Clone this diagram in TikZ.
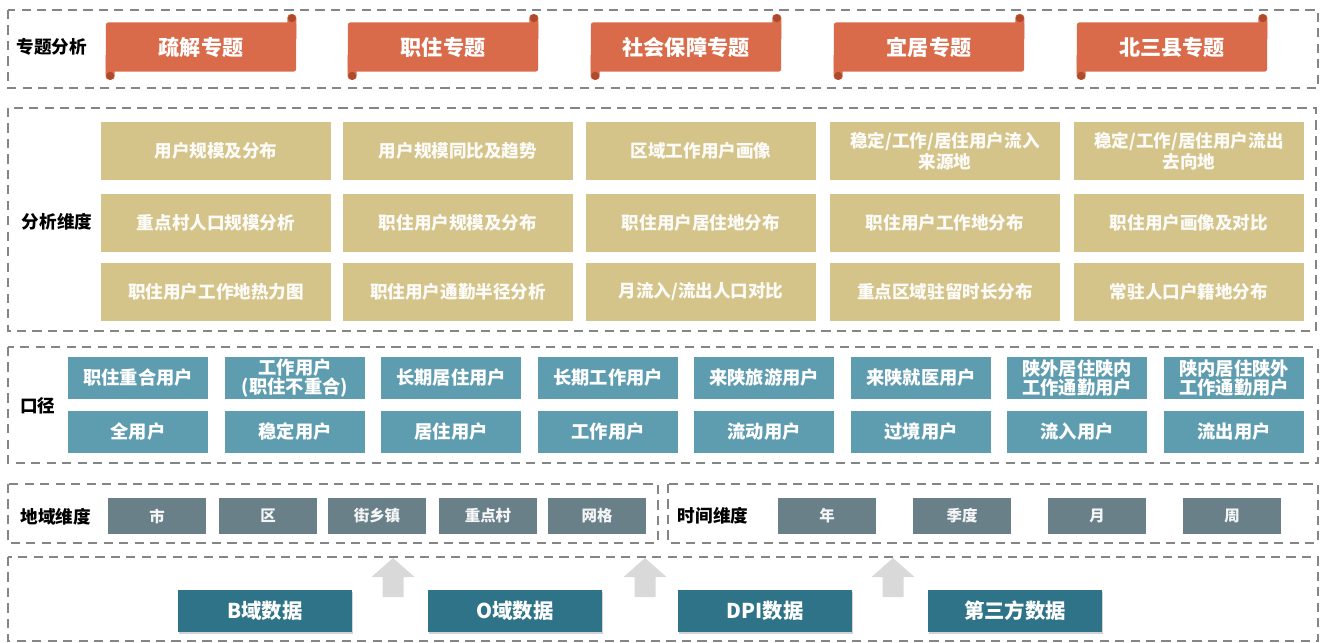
\documentclass[tikz,border=0pt]{standalone}
\usepackage{fontspec}
\setmainfont{Noto Sans CJK SC}
\usepackage{tikz}
\usetikzlibrary{shadows}
\definecolor{bannerred}{HTML}{D96B4A}
\definecolor{bannerdark}{HTML}{B04A2C}
\definecolor{dimgold}{HTML}{D4C48A}
\definecolor{scopeblue}{HTML}{5E9CB0}
\definecolor{areagray}{HTML}{6A8089}
\definecolor{datateal}{HTML}{2E7387}
\definecolor{framegray}{HTML}{858585}
\definecolor{arrowgray}{HTML}{D9D9D9}
\newcommand{\tikzBannerNode}[3]{
  \node[banner] (#1) at (#2) {#3};
  \path[fill=bannerred,rounded corners=2.5pt] (#1.north east) ++(-9,20) -- ++(0,-28) -- ++(9,0) -- ++(0,28) -- cycle;
  \path[fill=bannerred,rounded corners=2.5pt] (#1.south west) ++(0,-20) -- ++(0,28) -- ++(9,0) -- ++(0,-28) -- cycle;
  \path[fill=bannerdark] (#1.north east) ++(-4.5,-4) circle (0.1cm);
  \path[fill=bannerdark] (#1.south west) ++(4.5,4) circle (0.1cm);
}
\newcommand{\tikzUpArrow}[2]{
  \coordinate (#1) at (#2);
  \path[fill=arrowgray] (#1) -- ++(21.5,19) -- ++(-11,0) -- ++(0,20) -- ++(-21,0) -- ++(0,-20) -- ++(-11,0) -- cycle;
}

\begin{document}
\begin{tikzpicture}[x=0.025cm,y=-0.025cm,
  frame/.style={draw=framegray,line width=1.5pt,dash pattern=on 6.5pt off 4.5pt},
  banner/.style={fill=bannerred,rounded corners=1.5pt,minimum width=4.75cm,minimum height=1.225cm,inner sep=0pt,text=white,font=\bfseries\fontsize{15}{17}\selectfont},
  tag/.style={text=black,font=\bfseries\fontsize{12.5}{14}\selectfont,inner sep=0pt},
  dimbox/.style={fill=dimgold,minimum width=5.725cm,minimum height=1.425cm,inner sep=0pt,align=center,text=white!94!dimgold,font=\bfseries\fontsize{12.5}{15}\selectfont},
  scopebox/.style={fill=scopeblue,minimum width=3.5cm,minimum height=1.05cm,inner sep=0pt,align=center,text=white,font=\bfseries\fontsize{13}{13.5}\selectfont},
  areabox/.style={fill=areagray,minimum width=2.425cm,minimum height=0.875cm,inner sep=0pt,text=white!92!areagray,font=\bfseries\fontsize{11}{12}\selectfont},
  databox/.style={fill=datateal,minimum width=4.35cm,minimum height=1.05cm,inner sep=0pt,text=white,font=\bfseries\fontsize{14.5}{16}\selectfont,drop shadow={shadow xshift=0.6pt,shadow yshift=-1.2pt,opacity=0.35}}]
  \useasboundingbox (0,0) rectangle (1324,643);
  \draw[frame] (8,10) rectangle (1318,88);
  \draw[frame] (8,108) rectangle (1316,331);
  \draw[frame] (8,347) rectangle (1318,463);
  \draw[frame] (8,484) rectangle (658,543);
  \draw[frame] (668,484) rectangle (1318,543);
  \draw[frame] (8,557) rectangle (1318,641);

  \node[tag] (t1) at (52,47) {专题分析};
  \tikzBannerNode{s1}{201,47}{疏解专题}
  \tikzBannerNode{s2}{443,47}{职住专题}
  \tikzBannerNode{s3}{686,47}{社会保障专题}
  \tikzBannerNode{s4}{929,47}{宜居专题}
  \tikzBannerNode{s5}{1172,47}{北三县专题}

  \node[tag] (t2) at (57,222) {分析维度};
  \node[dimbox] (d11) at (216,151) {用户规模及分布};
  \node[dimbox] (d12) at (458,151) {用户规模同比及趋势};
  \node[dimbox] (d13) at (701,151) {区域工作用户画像};
  \node[dimbox] (d14) at (945,151) {稳定/工作/居住用户流入\\来源地};
  \node[dimbox] (d15) at (1189,151) {稳定/工作/居住用户流出\\去向地};
  \node[dimbox] (d21) at (216,223) {重点村人口规模分析};
  \node[dimbox] (d22) at (458,223) {职住用户规模及分布};
  \node[dimbox] (d23) at (701,223) {职住用户居住地分布};
  \node[dimbox] (d24) at (945,223) {职住用户工作地分布};
  \node[dimbox] (d25) at (1189,223) {职住用户画像及对比};
  \node[dimbox] (d31) at (216,292) {职住用户工作地热力图};
  \node[dimbox] (d32) at (458,292) {职住用户通勤半径分析};
  \node[dimbox] (d33) at (701,292) {月流入/流出人口对比};
  \node[dimbox] (d34) at (945,292) {重点区域驻留时长分布};
  \node[dimbox] (d35) at (1189,292) {常驻人口户籍地分布};

  \node[tag] (t3) at (38,406) {口径};
  \node[scopebox] (k11) at (138,378) {职住重合用户};
  \node[scopebox] (k12) at (295,378) {工作用户\\(职住不重合)};
  \node[scopebox] (k13) at (451,378) {长期居住用户};
  \node[scopebox] (k14) at (608,378) {长期工作用户};
  \node[scopebox] (k15) at (764,378) {来陕旅游用户};
  \node[scopebox] (k16) at (921,378) {来陕就医用户};
  \node[scopebox] (k17) at (1077,378) {陕外居住陕内\\工作通勤用户};
  \node[scopebox] (k18) at (1234,378) {陕内居住陕外\\工作通勤用户};
  \node[scopebox] (k21) at (138,432) {全用户};
  \node[scopebox] (k22) at (295,432) {稳定用户};
  \node[scopebox] (k23) at (451,432) {居住用户};
  \node[scopebox] (k24) at (608,432) {工作用户};
  \node[scopebox] (k25) at (764,432) {流动用户};
  \node[scopebox] (k26) at (921,432) {过境用户};
  \node[scopebox] (k27) at (1077,432) {流入用户};
  \node[scopebox] (k28) at (1234,432) {流出用户};

  \node[tag] (t4) at (56,517) {地域维度};
  \node[areabox] (a1) at (157,516) {市};
  \node[areabox] (a2) at (268,516) {区};
  \node[areabox] (a3) at (377,516) {街乡镇};
  \node[areabox] (a4) at (488,516) {重点村};
  \node[areabox] (a5) at (597,516) {网格};
  \node[tag] (t5) at (713,516) {时间维度};
  \node[areabox] (p1) at (827,516) {年};
  \node[areabox] (p2) at (962,516) {季度};
  \node[areabox] (p3) at (1097,516) {月};
  \node[areabox] (p4) at (1232,516) {周};

  \tikzUpArrow{u1}{393,558}
  \tikzUpArrow{u2}{645,558}
  \tikzUpArrow{u3}{893,558}
  \node[databox] (x1) at (265,611) {B域数据};
  \node[databox] (x2) at (515,611) {O域数据};
  \node[databox] (x3) at (765,611) {DPI数据};
  \node[databox] (x4) at (1015,611) {第三方数据};
\end{tikzpicture}
\end{document}
